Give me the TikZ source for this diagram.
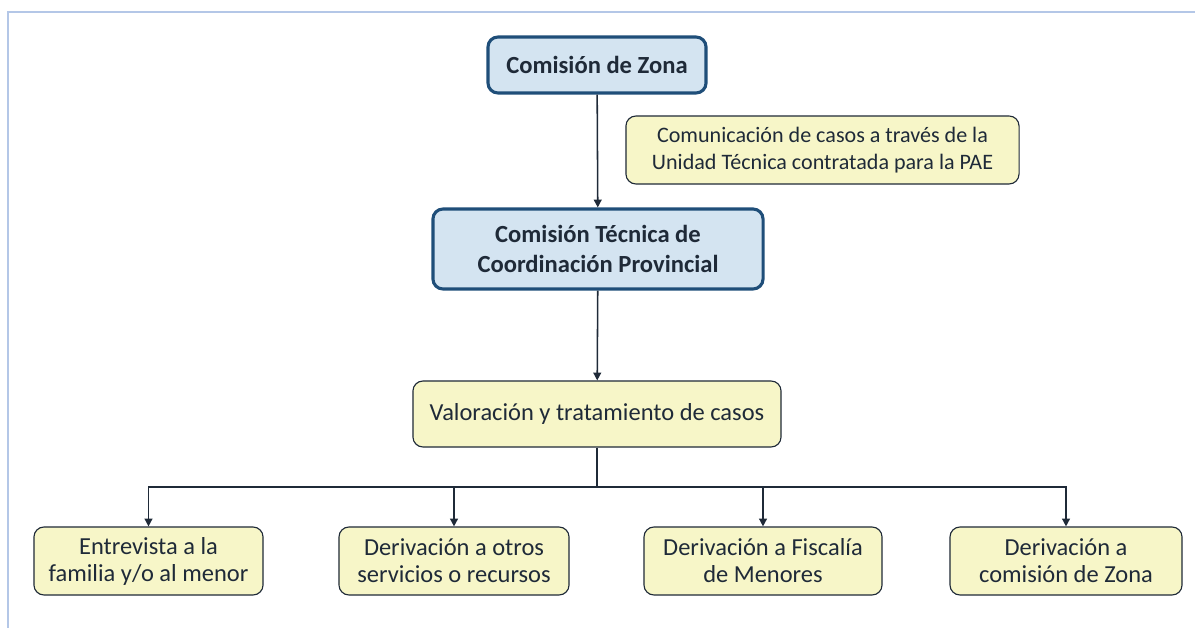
\documentclass[tikz,border=0pt]{standalone}
\usepackage{fontspec}
\setmainfont{Carlito}
\usepackage{xcolor}
\usepackage{tikz}
\usetikzlibrary{arrows.meta}

\definecolor{azulfondo}{HTML}{D4E4F1}
\definecolor{azulborde}{HTML}{1F4E79}
\definecolor{amarillo}{HTML}{F7F6C8}
\definecolor{oscuro}{HTML}{1F2A38}
\definecolor{marco}{HTML}{B4C7E7}

\tikzset{
  cajaazul/.style={draw=azulborde, fill=azulfondo, line width=2.2pt, rounded corners=0.25cm,
    text=oscuro, font=\fontsize{17.5}{21.3}\selectfont\bfseries, align=center, inner sep=0pt},
  cajaamarilla/.style={draw=oscuro, fill=amarillo, line width=0.8pt, rounded corners=0.25cm,
    text=oscuro, font=\fontsize{17.4}{19.2}\selectfont, align=center, inner sep=0pt},
  flecha/.style={draw=oscuro, line width=1.1pt, -{Triangle[width=5.5pt,length=5.5pt]}},
}

\begin{document}
\begin{tikzpicture}[x=0.025cm, y=-0.025cm]
  \useasboundingbox (0,0) rectangle (1195,628);

  % Marco
  \draw[marco, line width=1.2pt] (8,628) -- (8,12) -- (1195,12);

  % Comisiones
  \node[cajaazul, minimum width=5.45cm, minimum height=1.4cm] (zona) at (597,65) {Comisión de Zona};
  \node[cajaazul, minimum width=8.25cm, minimum height=2.0cm] (ctcp) at (598,249)
    {Comisión Técnica de\\Coordinación Provincial};

  % Nota lateral
  \node[cajaamarilla, font=\fontsize{15.7}{19.2}\selectfont, minimum width=9.825cm, minimum height=1.7cm] (nota) at (822.5,150)
    {Comunicación de casos a través de la\\Unidad Técnica contratada para la PAE};

  % Valoracion
  \node[cajaamarilla, minimum width=9.2cm, minimum height=1.65cm] (valor) at (597,414)
    {Valoración y tratamiento de casos};

  % Salidas
  \node[cajaamarilla, minimum width=5.725cm, minimum height=1.7cm] (entrevista) at (148.5,561)
    {Entrevista a la\\familia y/o al menor};
  \node[cajaamarilla, minimum width=5.75cm, minimum height=1.7cm] (servicios) at (454,561)
    {Derivación a otros\\servicios o recursos};
  \node[cajaamarilla, minimum width=5.95cm, minimum height=1.7cm] (fiscalia) at (763,561)
    {Derivación a Fiscalía\\de Menores};
  \node[cajaamarilla, minimum width=5.8cm, minimum height=1.7cm] (comision) at (1066,561)
    {Derivación a\\comisión de Zona};

  % Conectores
  \draw[flecha] (zona) -- (ctcp);
  \draw[flecha] (ctcp) -- (valor);
  \coordinate (bus) at (597,487);
  \draw[oscuro, line width=1.1pt] (valor.south) -- (bus);
  \foreach \destino in {entrevista,servicios,fiscalia,comision}
    \draw[flecha] (bus) -| (\destino.north);
\end{tikzpicture}
\end{document}
